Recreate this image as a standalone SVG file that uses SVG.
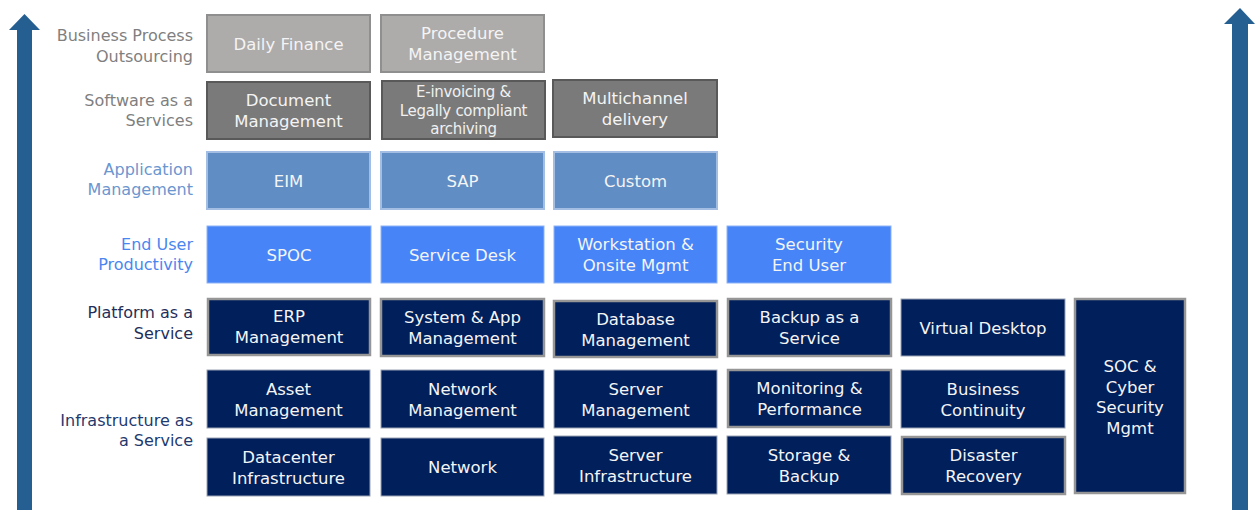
<svg xmlns="http://www.w3.org/2000/svg" width="1255" height="510" viewBox="0 0 1255 510">
<style>
text{font-family:"DejaVu Sans","Liberation Sans",sans-serif}
.bt{font-size:16.5px;fill:#f4f4f4;text-anchor:middle}
.sm{font-size:15px;fill:#f0f0f0;text-anchor:middle;letter-spacing:-0.3px}
.lb{font-size:16px;text-anchor:end}
.bpo{fill:#aeabab;stroke:#8f8f8f;stroke-width:2}
.saas{fill:#7a7a7a;stroke:#595959;stroke-width:2}
.app{fill:#5f8dc4;stroke:#a4bde2;stroke-width:2}
.eup{fill:#4684f8;stroke:#8fb3f5;stroke-width:1}
.nv{fill:#001f5b;stroke:#9aa3b5;stroke-width:1}
.nvb{fill:#001f5b;stroke:#969696;stroke-width:2.5}
.arrow{fill:#255f92}
</style>
<g id="arrows">
<polygon class="arrow" points="17,510 17,30 9,30 24.5,14 40,30 32,30 32,510"/>
<polygon class="arrow" points="1232,510 1232,24 1224,24 1240,8 1255,24 1248,24 1248,510"/>
</g>
<g id="labels">
<text class="lb" x="193" y="41" fill="#7f7f7f">Business Process</text>
<text class="lb" x="193" y="62" fill="#7f7f7f">Outsourcing</text>
<text class="lb" x="193" y="106" fill="#7f7f7f">Software as a</text>
<text class="lb" x="193" y="126" fill="#7f7f7f">Services</text>
<text class="lb" x="193" y="175" fill="#6b96cf">Application</text>
<text class="lb" x="193" y="195" fill="#6b96cf">Management</text>
<text class="lb" x="193" y="250" fill="#4a86f0">End User</text>
<text class="lb" x="193" y="270" fill="#4a86f0">Productivity</text>
<text class="lb" x="193" y="318" fill="#1f2f5a">Platform as a</text>
<text class="lb" x="193" y="339" fill="#1f2f5a">Service</text>
<text class="lb" x="193" y="426" fill="#1f3a6e">Infrastructure as</text>
<text class="lb" x="193" y="446" fill="#1f3a6e">a Service</text>
</g>
<g id="n-daily-finance"><rect class="bpo" x="207" y="15" width="163" height="57"/><text class="bt" x="288.5" y="49.5">Daily Finance</text></g>
<g id="n-procedure-mgmt"><rect class="bpo" x="381" y="15" width="163" height="57"/><text class="bt" x="462.5" y="39">Procedure</text><text class="bt" x="462.5" y="60">Management</text></g>
<g id="n-document-mgmt"><rect class="saas" x="207" y="82" width="163" height="57"/><text class="bt" x="288.5" y="106">Document</text><text class="bt" x="288.5" y="127">Management</text></g>
<g id="n-einvoicing"><rect class="saas" x="382" y="81" width="163" height="58"/><text class="sm" x="463.5" y="97">E-invoicing &amp;</text><text class="sm" x="463.5" y="116">Legally compliant</text><text class="sm" x="463.5" y="134">archiving</text></g>
<g id="n-multichannel"><rect class="saas" x="553" y="80" width="164" height="57"/><text class="bt" x="635" y="104">Multichannel</text><text class="bt" x="635" y="125">delivery</text></g>
<g id="n-eim"><rect class="app" x="207" y="152" width="163" height="57"/><text class="bt" x="288.5" y="186.5">EIM</text></g>
<g id="n-sap"><rect class="app" x="381" y="152" width="163" height="57"/><text class="bt" x="462.5" y="186.5">SAP</text></g>
<g id="n-custom"><rect class="app" x="554" y="152" width="163" height="57"/><text class="bt" x="635.5" y="186.5">Custom</text></g>
<g id="n-spoc"><rect class="eup" x="207" y="226" width="164" height="57"/><text class="bt" x="289" y="260.5">SPOC</text></g>
<g id="n-service-desk"><rect class="eup" x="381" y="226" width="163" height="57"/><text class="bt" x="462.5" y="260.5">Service Desk</text></g>
<g id="n-workstation"><rect class="eup" x="554" y="226" width="163" height="57"/><text class="bt" x="635.5" y="250">Workstation &amp;</text><text class="bt" x="635.5" y="271">Onsite Mgmt</text></g>
<g id="n-security-end-user"><rect class="eup" x="727" y="226" width="164" height="57"/><text class="bt" x="809" y="250">Security</text><text class="bt" x="809" y="271">End User</text></g>
<g id="n-erp"><rect class="nvb" x="208" y="299" width="162" height="56"/><text class="bt" x="289" y="322">ERP</text><text class="bt" x="289" y="343">Management</text></g>
<g id="n-system-app"><rect class="nvb" x="381" y="299" width="163" height="57"/><text class="bt" x="462.5" y="323">System &amp; App</text><text class="bt" x="462.5" y="344">Management</text></g>
<g id="n-database"><rect class="nvb" x="554" y="301" width="163" height="56"/><text class="bt" x="635.5" y="324.5">Database</text><text class="bt" x="635.5" y="345.5">Management</text></g>
<g id="n-backup-service"><rect class="nvb" x="728" y="299" width="163" height="57"/><text class="bt" x="809.5" y="323">Backup as a</text><text class="bt" x="809.5" y="344">Service</text></g>
<g id="n-virtual-desktop"><rect class="nv" x="901" y="299" width="164" height="57"/><text class="bt" x="983" y="333.5">Virtual Desktop</text></g>
<g id="n-asset"><rect class="nv" x="207" y="370" width="163" height="58"/><text class="bt" x="288.5" y="394.5">Asset</text><text class="bt" x="288.5" y="415.5">Management</text></g>
<g id="n-network-mgmt"><rect class="nv" x="381" y="370" width="163" height="58"/><text class="bt" x="462.5" y="394.5">Network</text><text class="bt" x="462.5" y="415.5">Management</text></g>
<g id="n-server-mgmt"><rect class="nv" x="554" y="370" width="163" height="58"/><text class="bt" x="635.5" y="394.5">Server</text><text class="bt" x="635.5" y="415.5">Management</text></g>
<g id="n-monitoring"><rect class="nvb" x="728" y="370" width="163" height="57"/><text class="bt" x="809.5" y="394">Monitoring &amp;</text><text class="bt" x="809.5" y="415">Performance</text></g>
<g id="n-business-continuity"><rect class="nv" x="901" y="370" width="164" height="58"/><text class="bt" x="983" y="394.5">Business</text><text class="bt" x="983" y="415.5">Continuity</text></g>
<g id="n-datacenter"><rect class="nv" x="207" y="438" width="163" height="58"/><text class="bt" x="288.5" y="462.5">Datacenter</text><text class="bt" x="288.5" y="483.5">Infrastructure</text></g>
<g id="n-network"><rect class="nv" x="381" y="438" width="163" height="58"/><text class="bt" x="462.5" y="473">Network</text></g>
<g id="n-server-infra"><rect class="nv" x="554" y="436" width="163" height="58"/><text class="bt" x="635.5" y="460.5">Server</text><text class="bt" x="635.5" y="481.5">Infrastructure</text></g>
<g id="n-storage-backup"><rect class="nv" x="727" y="436" width="164" height="58"/><text class="bt" x="809" y="460.5">Storage &amp;</text><text class="bt" x="809" y="481.5">Backup</text></g>
<g id="n-disaster-recovery"><rect class="nvb" x="902" y="437" width="163" height="57"/><text class="bt" x="983.5" y="461">Disaster</text><text class="bt" x="983.5" y="482">Recovery</text></g>
<g id="n-soc"><rect class="nvb" x="1075" y="299" width="110" height="194"/><text class="bt" x="1130" y="372">SOC &amp;</text><text class="bt" x="1130" y="392.5">Cyber</text><text class="bt" x="1130" y="413">Security</text><text class="bt" x="1130" y="433.5">Mgmt</text></g>
</svg>
